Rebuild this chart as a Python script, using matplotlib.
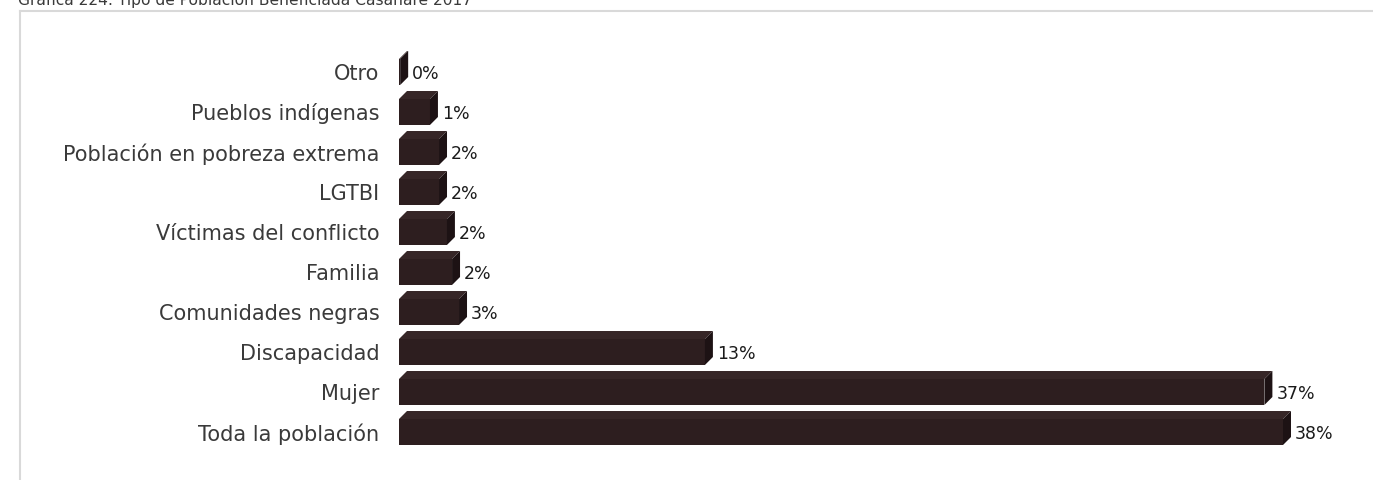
import matplotlib
matplotlib.use("Agg")
import matplotlib.pyplot as plt
from matplotlib.patches import Polygon, Rectangle
from matplotlib.lines import Line2D

categories = ["Toda la población", "Mujer", "Discapacidad", "Comunidades negras",
              "Familia", "Víctimas del conflicto", "LGTBI",
              "Población en pobreza extrema", "Pueblos indígenas", "Otro"]
values = [38.0, 37.2, 13.15, 2.58, 2.28, 2.06, 1.72, 1.72, 1.33, 0.05]
title = "Gráfica 224. Tipo de Población Beneficiada Casanare 2017"

plt.rcParams['font.family'] = ['DejaVu Sans']
W, H = 1373, 480
fig = plt.figure(figsize=(W / 100, H / 100), dpi=100)

# axes placed in pixels
x0, x1 = 399, 1283
ytop, ybot = 52, 452
ax = fig.add_axes([x0 / W, (H - ybot) / H, (x1 - x0) / W, (ybot - ytop) / H])
xmax = 38.0
ax.set_xlim(0, xmax)
ax.set_ylim(-0.5, len(categories) - 0.5)
for s in ax.spines.values():
    s.set_visible(False)
ax.set_xticks([])
ax.set_yticks(range(len(categories)))
ax.set_yticklabels(categories, fontsize=15, color="#3a3a3a")
ax.tick_params(axis='y', length=0, pad=14)

px_x = xmax / (x1 - x0)   # data units per pixel (x)
px_y = 1.0 / 40.0          # data units per pixel (y)
dx = 8 * px_x
dy = 8 * px_y
bh = 26 * px_y

front_c = "#2d1e1f"
top_c = "#362627"
side_c = "#1d1214"

for i, v in enumerate(values):
    yb = i - bh / 2
    yt = i + bh / 2
    ax.add_patch(Rectangle((0, yb), v, bh, facecolor=front_c, edgecolor="none", clip_on=False))
    ax.add_patch(Polygon([(0, yt), (v, yt), (v + dx, yt + dy), (dx, yt + dy)],
                         closed=True, facecolor=top_c, edgecolor="none", clip_on=False))
    ax.add_patch(Polygon([(v, yb), (v + dx, yb + dy), (v + dx, yt + dy), (v, yt)],
                         closed=True, facecolor=side_c, edgecolor="none", clip_on=False))
    ax.text(v + dx + 4 * px_x, i - 0.05, f"{round(v):.0f}%", fontsize=12.5,
            color="#1a1a1a", va="center", ha="left", clip_on=False)

# frame lines
fig.add_artist(Line2D([20 / W, 20 / W], [0, 1 - 11 / H], transform=fig.transFigure,
                      color="#d9d9d9", lw=1.5))
fig.add_artist(Line2D([20 / W, 1], [1 - 11 / H, 1 - 11 / H], transform=fig.transFigure,
                      color="#d9d9d9", lw=1.5))

fig.text(18 / W, 1 - 5 / H, title, fontsize=11.2, color="#3a3a3a", va="baseline", ha="left")

fig.savefig("out.png", dpi=100, facecolor="white")
